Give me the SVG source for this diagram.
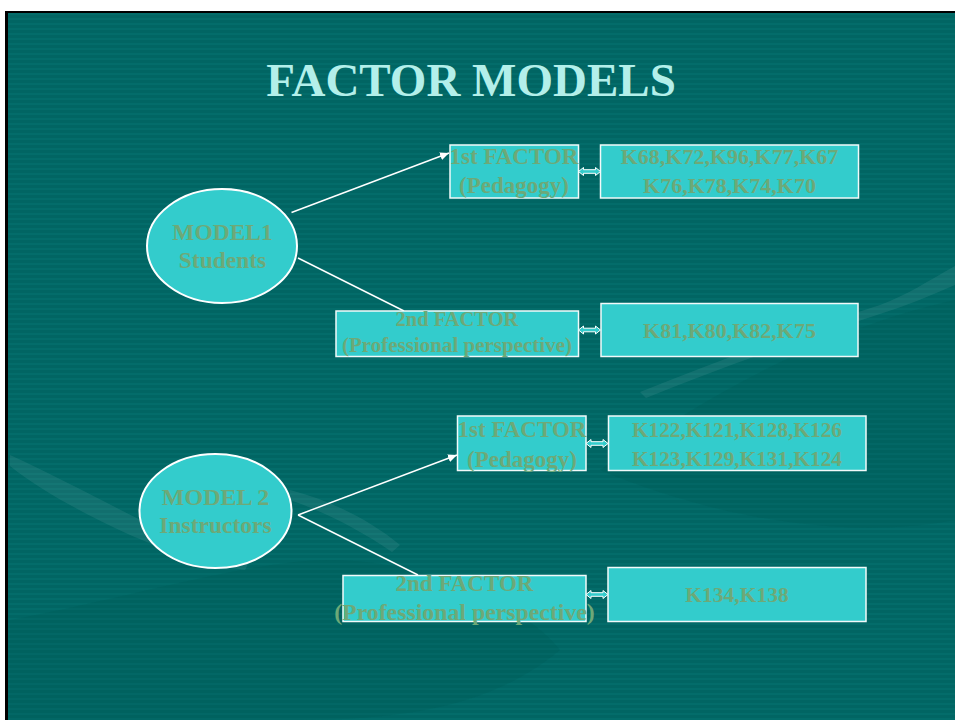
<svg xmlns="http://www.w3.org/2000/svg" width="955" height="720" viewBox="0 0 955 720">
  <defs>
    <pattern id="stripes" x="0" y="13" width="10" height="5" patternUnits="userSpaceOnUse">
      <rect x="0" y="0" width="10" height="5" fill="#016563"/>
      <rect x="0" y="0" width="10" height="2" fill="#036C6A"/>
    </pattern>
    <marker id="arrow" markerUnits="userSpaceOnUse" markerWidth="10" markerHeight="8" refX="9" refY="4" orient="auto">
      <path d="M0,0 L9,4 L0,8 z" fill="#FFFFFF"/>
    </marker>
    <path id="dbl" d="M0,0 L5,-4 L5,-1.8 L17,-1.8 L17,-4 L22,0 L17,4 L17,1.8 L5,1.8 L5,4 z"/>
    <style>
      .node { fill: #33CCCC; stroke: #F2FAFA; stroke-width: 1.5; }
      .ell { fill: #33CCCC; stroke: #FFFFFF; stroke-width: 2; }
      .lbl { font-family: "Liberation Serif", "Times New Roman", serif; font-weight: bold; fill: #6DA978; text-anchor: middle; }
      .title { font-family: "Liberation Serif", "Times New Roman", serif; font-weight: bold; fill: #B3EFEA; text-anchor: middle; font-size: 47px; }
      .conn { stroke: #FFFFFF; stroke-width: 1.5; fill: none; }
      .dbl { fill: #33CCCC; stroke: #FFFFFF; stroke-width: 1; }
      .deco { fill: #FFFFFF; opacity: 0.07; }
      .decod { fill: #004F4D; opacity: 0.15; }
    </style>
  </defs>

  <!-- page background -->
  <rect x="0" y="0" width="955" height="720" fill="#FFFFFF"/>
  <rect x="5" y="11" width="950" height="709" fill="#000000"/>
  <rect x="8" y="13" width="947" height="707" fill="url(#stripes)"/>

  <!-- faint background decoration -->
  <g id="decoration">
    <path class="decod" d="M10,620 C120,600 250,560 330,560 C420,560 520,600 560,650 C500,700 420,720 300,720 L10,720 z"/>
    <path class="decod" d="M600,470 C700,400 820,330 955,300 L955,520 C850,540 720,520 600,470 z"/>
    <path class="deco" d="M10,455 C60,478 120,510 170,535 C200,548 230,556 250,560 L245,570 C210,566 170,552 130,535 C80,512 40,490 10,466 z"/>
    <path class="deco" d="M290,490 C330,500 370,520 400,545 L392,552 C360,530 325,512 290,500 z"/>
    <path class="deco" d="M640,392 C720,360 800,330 880,305 C905,296 930,280 955,266 L955,285 C930,296 905,306 880,314 C800,340 720,368 646,398 z"/>
  </g>

  <!-- title -->
  <text class="title" x="471" y="96">FACTOR MODELS</text>

  <!-- connectors -->
  <g id="connectors">
    <line class="conn" x1="291.5" y1="212.5" x2="449" y2="153" marker-end="url(#arrow)"/>
    <line class="conn" x1="298" y1="258" x2="404" y2="311"/>
    <line class="conn" x1="298" y1="515" x2="457" y2="455" marker-end="url(#arrow)"/>
    <line class="conn" x1="298" y1="515" x2="418" y2="575"/>
  </g>

  <!-- model 1 -->
  <g id="model1">
    <ellipse class="ell" cx="222" cy="246" rx="75" ry="57"/>
    <text class="lbl" x="222.5" y="240" font-size="23.5">MODEL1</text>
    <text class="lbl" x="222.5" y="268" font-size="23.5">Students</text>
  </g>

  <g id="m1-factor1">
    <rect class="node" x="450" y="145" width="128.5" height="53"/>
    <text class="lbl" x="514" y="164" font-size="23">1st FACTOR</text>
    <text class="lbl" x="514" y="193" font-size="23">(Pedagogy)</text>
  </g>

  <g id="m1-items1">
    <rect class="node" x="600.5" y="145" width="258" height="53"/>
    <text class="lbl" x="729.5" y="164" font-size="22">K68,K72,K96,K77,K67</text>
    <text class="lbl" x="729.5" y="192.5" font-size="22">K76,K78,K74,K70</text>
  </g>

  <g id="m1-factor2">
    <rect class="node" x="336" y="311" width="242.5" height="45.5"/>
    <text class="lbl" x="457" y="325.5" font-size="20.5">2nd FACTOR</text>
    <text class="lbl" x="457" y="351.5" font-size="21">(Professional perspective)</text>
  </g>

  <g id="m1-items2">
    <rect class="node" x="601" y="303.5" width="257" height="53"/>
    <text class="lbl" x="729.5" y="337.5" font-size="22">K81,K80,K82,K75</text>
  </g>

  <!-- model 2 -->
  <g id="model2">
    <ellipse class="ell" cx="215.5" cy="511" rx="76" ry="57"/>
    <text class="lbl" x="215.5" y="505" font-size="24">MODEL 2</text>
    <text class="lbl" x="215.5" y="533" font-size="23.5">Instructors</text>
  </g>

  <g id="m2-factor1">
    <rect class="node" x="457.5" y="416" width="128.5" height="54.5"/>
    <text class="lbl" x="522" y="436.5" font-size="23">1st FACTOR</text>
    <text class="lbl" x="522" y="466.5" font-size="23">(Pedagogy)</text>
  </g>

  <g id="m2-items1">
    <rect class="node" x="608.5" y="416" width="257.5" height="54.5"/>
    <text class="lbl" x="737" y="436.5" font-size="21.3">K122,K121,K128,K126</text>
    <text class="lbl" x="737" y="466" font-size="21.3">K123,K129,K131,K124</text>
  </g>

  <g id="m2-factor2">
    <rect class="node" x="343" y="575.5" width="243" height="46"/>
    <text class="lbl" x="464.5" y="591" font-size="23">2nd FACTOR</text>
    <text class="lbl" x="464.5" y="620" font-size="23.8">(Professional perspective)</text>
  </g>

  <g id="m2-items2">
    <rect class="node" x="608" y="567.5" width="258" height="54"/>
    <text class="lbl" x="737" y="601.5" font-size="21.5">K134,K138</text>
  </g>

  <!-- double-headed links -->
  <g id="links">
    <use href="#dbl" class="dbl" x="578.5" y="171.5"/>
    <use href="#dbl" class="dbl" x="578.5" y="330"/>
    <use href="#dbl" class="dbl" x="586" y="443.5"/>
    <use href="#dbl" class="dbl" x="586" y="594.5"/>
  </g>
</svg>
